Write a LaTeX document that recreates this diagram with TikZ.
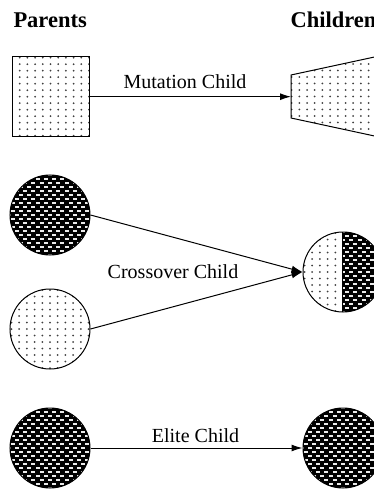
\documentclass[tikz,border=0pt]{standalone}
\usepackage{fontspec}
\setmainfont{Liberation Serif}
\usetikzlibrary{arrows.meta}
\definecolor{dotcol}{gray}{0.25}
\definecolor{dashcol}{gray}{0.92}
\newcommand{\mydots}{%
  \foreach \r in {-13,...,13}{\foreach \c in {-9,...,9}{%
    \fill[dotcol] (\c*7.7,\r*6.5) circle[radius=1pt];}}}
\newcommand{\mydashes}{%
  \fill[black] (-60,-60) rectangle (60,60);
  \foreach \r in {-11,...,11}{%
    \pgfmathsetmacro\off{mod(\r+22,2)*4.15}
    \foreach \c in {-7,...,6}{%
      \fill[dashcol] (\c*8.3+\off-2,\r*4-1) rectangle ++(4,2);}}}
\tikzset{
  dotpat/.style={path picture={\begin{scope}[shift={(path picture bounding box.center)}]\mydots\end{scope}}},
  darkpat/.style={path picture={\begin{scope}[shift={(path picture bounding box.center)}]\mydashes\end{scope}}},
  halfpat/.style={path picture={\begin{scope}[shift={(path picture bounding box.center)}]
      \begin{scope}\clip (-60,-60) rectangle (-1,60);\begin{scope}[shift={(-4,0)}]\mydots\end{scope}\end{scope}
      \begin{scope}\clip (-1,-60) rectangle (60,60);\mydashes\end{scope}
      \draw (-1,-60) -- (-1,60);
    \end{scope}}},
  ball/.style={draw, circle, minimum size=80pt, inner sep=0pt},
  head/.style={font=\bfseries\fontsize{22.5}{26}\selectfont, inner sep=0pt, anchor=base west},
  lab/.style={font=\fontsize{20}{24}\selectfont, inner sep=0pt, anchor=base},
}
\begin{document}
\begin{tikzpicture}[x=1pt,y=-1pt,line width=1pt,>={Latex[length=11pt,width=7pt]}]
\useasboundingbox (0,0) rectangle (374,489);
\clip (0,0) rectangle (374,489);
\node[head] (parents) at (13,27.5) {Parents};
\node[head] (children) at (290,27.5) {Children};
% mutation
\node[draw, dotpat, minimum width=77pt, minimum height=80pt, inner sep=0pt] (sq) at (50.5,96.7) {};
\path[draw, dotpat] (291,75) -- (400,51.5) -- (400,141.5) -- (291,118) -- cycle;
\coordinate (c1) at (291,96.7);
\draw[->] (sq.east) -- (c1);
\node[lab] (lm) at (185,88.5) {Mutation Child};
% crossover
\node[ball, darkpat] (p1) at (50,215) {};
\node[ball, dotpat] (p2) at (50,329) {};
\node[ball, halfpat] (c2) at (343,272) {};
\draw[->] (p1.east) -- (c2.west);
\draw[->] (p2.east) -- (c2.west);
\node[lab] (lc) at (173,278.5) {Crossover Child};
% elite
\node[ball, darkpat] (p3) at (50,448) {};
\node[ball, darkpat] (c3) at (343,448) {};
\draw[->] (p3.east) -- (c3.west);
\node[lab] (le) at (195.5,442.5) {Elite Child};
\end{tikzpicture}
\end{document}
